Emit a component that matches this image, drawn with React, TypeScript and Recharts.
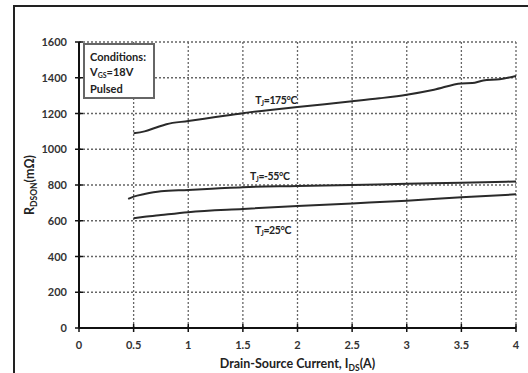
import React from 'react';
import { LineChart, Line, XAxis, YAxis, CartesianGrid } from 'recharts';

// Drain-source current (A) and on-resistance (mΩ)
const CURRENT_175 = [0.5, 0.6, 0.7, 0.8, 1, 1.25, 1.5, 1.75, 2, 2.25, 2.5, 2.75, 3, 3.25, 3.5, 3.6, 3.7, 3.85, 4];
const RDS_175 = [1090, 1100, 1120, 1140, 1158, 1180, 1202, 1220, 1236, 1252, 1268, 1285, 1305, 1333, 1368, 1370, 1385, 1392, 1410];

const CURRENT_M55 = [0.45, 0.5, 0.6, 0.75, 1, 1.25, 1.5, 2, 2.5, 3, 3.5, 4];
const RDS_M55 = [722, 735, 750, 765, 772, 780, 788, 794, 800, 807, 812, 820];

const CURRENT_25 = [0.5, 0.6, 0.75, 1, 1.5, 2, 2.5, 3, 3.5, 4];
const RDS_25 = [614, 622, 632, 648, 666, 682, 697, 712, 731, 748];

const X_TICKS = [0, 0.5, 1, 1.5, 2, 2.5, 3, 3.5, 4];
const Y_TICKS = [0, 200, 400, 600, 800, 1000, 1200, 1400, 1600];

const toRows = (xs: number[], ys: number[]) => xs.map((x, i) => ({ x, y: ys[i] }));

const FONT = 'Lato, "Open Sans", sans-serif';
const INK = '#222';

const YTick = (props: any) => {
  const { x, y, payload } = props;
  const axisX = x + 12;
  return (
    <g>
      <line x1={axisX - 4} x2={axisX + 4} y1={y} y2={y} stroke="#111" strokeWidth={1.5} />
      <text x={x} y={y} dy={4} textAnchor="end" fontSize={11} fontWeight={700} fill="#333" fontFamily={FONT}>
        {payload.value}
      </text>
    </g>
  );
};

const XTick = (props: any) => {
  const { x, y, payload } = props;
  const axisY = y - 12;
  return (
    <g>
      <line x1={x} x2={x} y1={axisY - 4} y2={axisY + 4} stroke="#111" strokeWidth={1.5} />
      <text x={x} y={y} dy={9} textAnchor="middle" fontSize={11} fontWeight={700} fill="#333" fontFamily={FONT}>
        {payload.value}
      </text>
    </g>
  );
};

const curveLabel = (temp: string, at: number, dx: number, dy: number) => (p: any) => {
  if (p.index !== at) return null;
  return (
    <text
      key={temp}
      x={p.x + dx}
      y={p.y + dy}
      fontSize={10.5}
      fontWeight={700}
      fill={INK}
      fontFamily={FONT}
      letterSpacing={-0.4}
    >
      T<tspan fontSize={7} dy={2}>J</tspan>
      <tspan dy={-2}>={temp}</tspan>
    </text>
  );
};

export default function App() {
  return (
    <div
      style={{
        position: 'absolute',
        left: 0,
        top: 0,
        width: 528,
        height: 373,
        overflow: 'hidden',
        background: '#fff',
      }}
    >
      <div
        style={{
          position: 'absolute',
          left: 13,
          top: 5,
          width: 600,
          height: 600,
          border: '2px solid #222',
        }}
      />
      <LineChart
        width={528}
        height={373}
        margin={{ top: 42, right: 12, bottom: 15, left: 39 }}
        style={{ position: 'absolute', left: 0, top: 0 }}
      >
        <CartesianGrid stroke="#666" strokeDasharray="2 2" strokeWidth={1.3} />
        <XAxis
          type="number"
          dataKey="x"
          domain={[0, 4]}
          ticks={X_TICKS}
          height={30}
          tickSize={4}
          tickMargin={8}
          tickLine={false}
          tick={<XTick />}
          axisLine={{ stroke: '#111', strokeWidth: 2 }}
          allowDuplicatedCategory={false}
          label={(p: any) => {
            const vb = p.viewBox;
            return (
              <text
                x={vb.x + vb.width / 2}
                y={368}
                textAnchor="middle"
                fontSize={12.5}
                fontWeight={700}
                fill={INK}
                fontFamily={FONT}
              >
                Drain-Source Current, I<tspan fontSize={8.5} dy={3}>DS</tspan>
                <tspan dy={-3}>(A)</tspan>
              </text>
            );
          }}
        />
        <YAxis
          type="number"
          domain={[0, 1600]}
          ticks={Y_TICKS}
          width={40}
          tickSize={4}
          tickMargin={8}
          tickLine={false}
          tick={<YTick />}
          axisLine={{ stroke: '#111', strokeWidth: 2 }}
          label={(p: any) => {
            const vb = p.viewBox;
            const cy = vb.y + vb.height / 2;
            return (
              <text
                x={34}
                y={cy}
                transform={`rotate(-90, 34, ${cy})`}
                textAnchor="middle"
                fontSize={12.5}
                fontWeight={700}
                fill={INK}
                fontFamily={FONT}
              >
                R<tspan fontSize={8.5} dy={3}>DSON</tspan>
                <tspan dy={-3}>(mΩ)</tspan>
              </text>
            );
          }}
        />
        <Line
          data={toRows(CURRENT_175, RDS_175)}
          dataKey="y"
          type="monotone"
          stroke="#2a2a2a"
          strokeWidth={2}
          dot={false}
          isAnimationActive={false}
          label={curveLabel('175°C', 7, -15, -6)}
        />
        <Line
          data={toRows(CURRENT_M55, RDS_M55)}
          dataKey="y"
          type="monotone"
          stroke="#2a2a2a"
          strokeWidth={2}
          dot={false}
          isAnimationActive={false}
          label={curveLabel('-55°C', 6, 7, -7)}
        />
        <Line
          data={toRows(CURRENT_25, RDS_25)}
          dataKey="y"
          type="monotone"
          stroke="#2a2a2a"
          strokeWidth={2}
          dot={false}
          isAnimationActive={false}
          label={curveLabel('25°C', 4, 12, 25)}
        />
      </LineChart>
      <div
        style={{
          position: 'absolute',
          left: 83,
          top: 43,
          width: 63,
          height: 48,
          border: '2px solid #666',
          background: '#fff',
          padding: '4px 0 0 5px',
          fontFamily: FONT,
          fontWeight: 700,
          fontSize: 11,
          lineHeight: '15px',
          color: INK,
        }}
      >
        <div>Conditions:</div>
        <div>
          V<sub style={{ fontSize: 7, verticalAlign: 'baseline', position: 'relative', top: 2 }}>GS</sub>=18V
        </div>
        <div>Pulsed</div>
      </div>
    </div>
  );
}
